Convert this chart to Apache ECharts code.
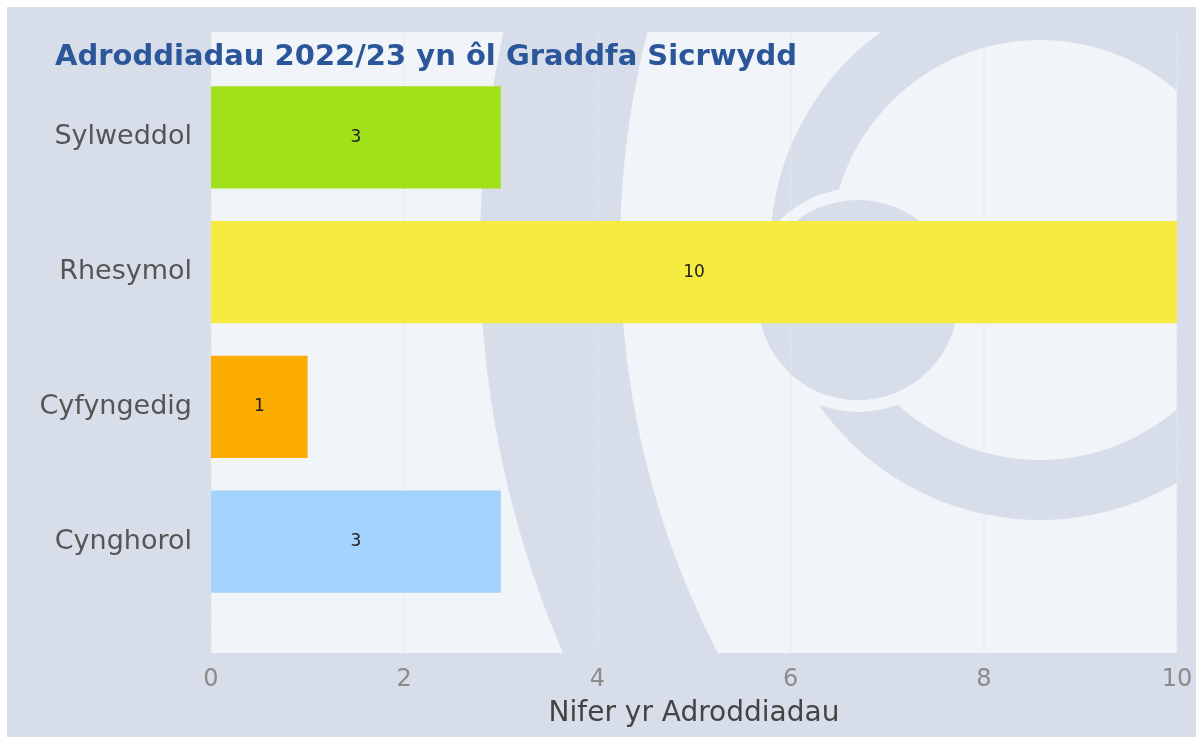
<!DOCTYPE html>
<html>
<head>
<meta charset="utf-8">
<script src="https://cdn.jsdelivr.net/npm/echarts@6/dist/echarts.min.js"></script>
<style>
  html, body { margin: 0; padding: 0; background: #fff; }
  body { padding: 7px 0 0 7px; }
  #chart { width: 1189px; height: 730px; }
</style>
</head>
<body>
<div id="chart"></div>
<script>
const categories = ['Sylweddol', 'Rhesymol', 'Cyfyngedig', 'Cynghorol']
const counts = [3, 10, 1, 3]
const barColors = ['#a0e11a', '#f5eb41', '#fcab00', '#a3d2fd']
const xTicks = [0, 2, 4, 6, 8, 10]

const OUTER = '#d7dee9'
const LIGHT = '#f1f4f8'
const DARK = '#d7dee9'

// faint logo in the plot background, offsets from the plot's top-left corner
const watermark = [
  { type: 'ring', cx: 1289, cy: 218, r0: 880, r: 1020, fill: DARK },
  { type: 'ring', cx: 829, cy: 218, r0: 210, r: 270, fill: DARK },
  { type: 'ring', cx: 647, cy: 268, r0: 100, r: 112, fill: LIGHT },
  { type: 'circle', cx: 647, cy: 268, r: 100, fill: DARK },
]

const chart = echarts.init(document.getElementById('chart'))

chart.setOption({
  animation: false,
  backgroundColor: OUTER,
  textStyle: { fontFamily: 'DejaVu Sans' },
  title: {
    text: 'Adroddiadau 2022/23 yn ôl Graddfa Sicrwydd',
    left: 48,
    top: 36,
    padding: 0,
    textStyle: { color: '#2b579a', fontSize: 29, fontWeight: 'bold', fontFamily: 'DejaVu Sans' },
  },
  grid: [
    { left: 204, right: 19, top: 25, bottom: 84, show: true, backgroundColor: LIGHT, borderWidth: 0 },
    { left: 204, right: 19, top: 63, bottom: 128 },
  ],
  xAxis: [
    {
      gridIndex: 0,
      type: 'value',
      z: 3,
      min: xTicks[0],
      max: xTicks[xTicks.length - 1],
      interval: 2,
      name: 'Nifer yr Adroddiadau',
      nameLocation: 'middle',
      nameGap: 47,
      nameTextStyle: { color: '#444', fontSize: 28 },
      axisLine: { show: false },
      axisTick: { show: false },
      axisLabel: { color: '#8a8a8a', fontSize: 24, margin: 15 },
      splitLine: { show: true, lineStyle: { color: '#e2e6ec', type: 'dotted', width: 1.5 } },
    },
    {
      gridIndex: 1,
      type: 'value',
      min: xTicks[0],
      max: xTicks[xTicks.length - 1],
      show: false,
    },
  ],
  yAxis: [
    { gridIndex: 0, type: 'value', min: 0, max: 1, show: false },
    {
      gridIndex: 1,
      type: 'category',
      data: categories,
      inverse: true,
      axisLine: { show: false },
      axisTick: { show: false },
      axisLabel: { color: '#555', fontSize: 27, margin: 19 },
      splitLine: { show: false },
    },
  ],
  series: [
    {
      type: 'custom',
      xAxisIndex: 0,
      yAxisIndex: 0,
      z: 1,
      silent: true,
      clip: true,
      data: [[0, 1]],
      renderItem: (params, api) => {
        const o = api.coord([0, 1])
        return {
          type: 'group',
          children: watermark.map(w => ({
            type: w.type,
            shape: w.type === 'ring'
              ? { cx: o[0] + w.cx, cy: o[1] + w.cy, r0: w.r0, r: w.r }
              : { cx: o[0] + w.cx, cy: o[1] + w.cy, r: w.r },
            style: { fill: w.fill },
          })),
        }
      },
    },
    {
      type: 'bar',
      xAxisIndex: 1,
      yAxisIndex: 1,
      z: 4,
      barCategoryGap: '24%',
      data: counts.map((v, i) => ({ value: v, itemStyle: { color: barColors[i] } })),
      label: {
        show: true,
        position: 'inside',
        color: '#222',
        fontSize: 17,
      },
    },
  ],
})
</script>
</body>
</html>
